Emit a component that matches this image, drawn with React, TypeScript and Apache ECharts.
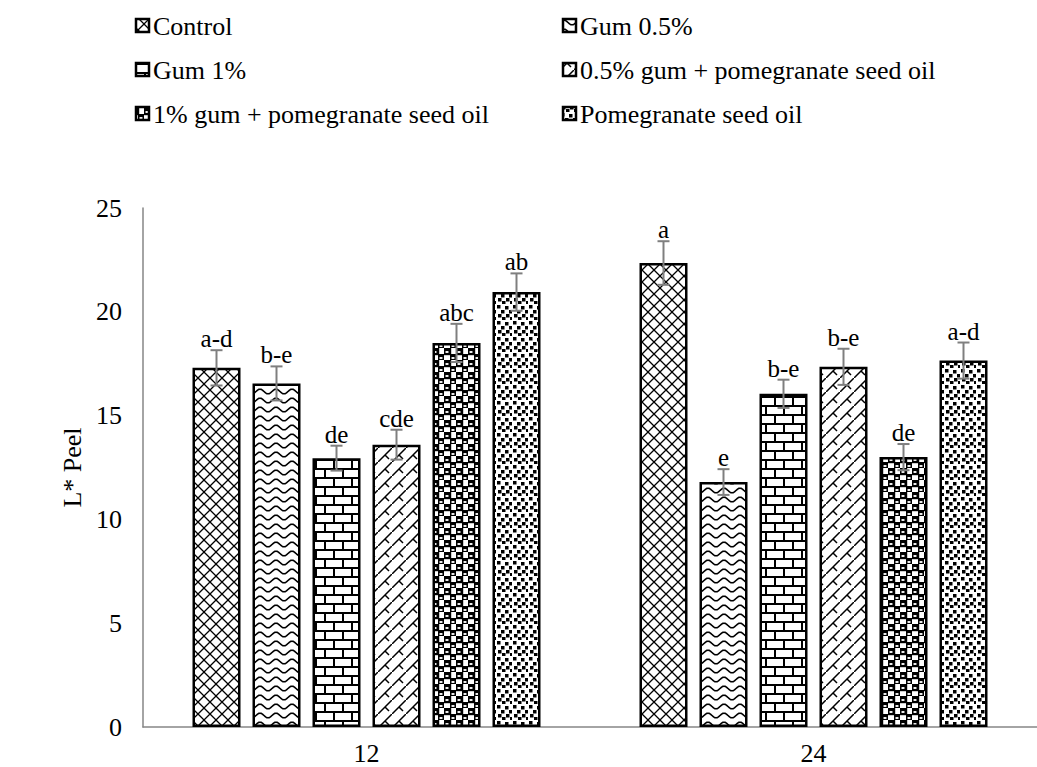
import React, { useEffect, useRef } from "react";
import * as echarts from "echarts";

const categories = ["12", "24"];
const seriesNames = [
  "Control",
  "Gum 0.5%",
  "Gum 1%",
  "0.5% gum + pomegranate seed oil",
  "1% gum + pomegranate seed oil",
  "Pomegranate seed oil",
];
const controlValues = [17.3, 22.35];
const gum05Values = [16.55, 11.8];
const gum1Values = [12.95, 16.05];
const gum05OilValues = [13.6, 17.35];
const gum1OilValues = [18.5, 13.0];
const oilValues = [20.95, 17.65];

const controlErr = [0.85, 1.05];
const gum05Err = [0.82, 0.62];
const gum1Err = [0.6, 0.68];
const gum05OilErr = [0.72, 0.87];
const gum1OilErr = [0.92, 0.63];
const oilErr = [0.9, 0.87];

const controlLetters = ["a-d", "a"];
const gum05Letters = ["b-e", "e"];
const gum1Letters = ["de", "b-e"];
const gum05OilLetters = ["cde", "b-e"];
const gum1OilLetters = ["abc", "de"];
const oilLetters = ["ab", "a-d"];

const yMin = 0;
const yMax = 25;
const yInterval = 5;

const FONT = "Liberation Serif, Times New Roman, serif";

type Tile = { url: string; w: number; h: number };

function makeTile(w: number, h: number, draw: (c: CanvasRenderingContext2D) => void): Tile {
  const cv = document.createElement("canvas");
  cv.width = w;
  cv.height = h;
  const c = cv.getContext("2d") as CanvasRenderingContext2D;
  c.fillStyle = "#fff";
  c.fillRect(0, 0, w, h);
  c.strokeStyle = "#000";
  c.fillStyle = "#000";
  draw(c);
  return { url: cv.toDataURL(), w, h };
}

function buildTiles(): Tile[] {
  const crossHatch = makeTile(12, 12, (c) => {
    c.lineWidth = 1.3;
    c.beginPath();
    c.moveTo(0, 0); c.lineTo(12, 12);
    c.moveTo(12, 0); c.lineTo(0, 12);
    c.stroke();
  });
  const waves = makeTile(16, 9, (c) => {
    c.lineWidth = 1.6;
    c.beginPath();
    for (let x = -1; x <= 17; x += 0.5) {
      const y = 4.5 - 2.3 * Math.sin((2 * Math.PI * x) / 16);
      if (x === -1) c.moveTo(x, y); else c.lineTo(x, y);
    }
    c.stroke();
  });
  const bricks = makeTile(18, 18, (c) => {
    c.fillRect(0, 0, 18, 2);
    c.fillRect(0, 9, 18, 2);
    c.fillRect(0, 0, 2, 9);
    c.fillRect(9, 9, 2, 9);
  });
  const diag = makeTile(14, 14, (c) => {
    c.lineWidth = 1.5;
    c.beginPath();
    c.moveTo(-1, 15); c.lineTo(15, -1);
    c.moveTo(7, 7); c.lineTo(11, 11);
    c.stroke();
  });
  const spheres = makeTile(12, 12, (c) => {
    c.fillStyle = "#000";
    c.fillRect(0, 0, 6.5, 6.5);
    c.fillRect(6, 6, 6.5, 6.5);
    c.fillRect(6, 0, 1.2, 12);
    c.fillRect(0, 6, 12, 1.2);
    c.fillStyle = "#fff";
    c.beginPath();
    c.ellipse(3, 4, 1.8, 0.9, 0, 0, Math.PI * 2);
    c.ellipse(9, 10, 1.8, 0.9, 0, 0, Math.PI * 2);
    c.fill();
  });
  const confetti = makeTile(16, 16, (c) => {
    const pts = [
      [1, 1], [9, 2], [5, 6], [13, 6], [2, 10], [10, 10], [6, 13], [14, 13],
    ];
    pts.forEach(([x, y]) => c.fillRect(x, y, 3.5, 3.5));
  });
  return [crossHatch, waves, bricks, diag, spheres, confetti];
}

export default function App() {
  const ref = useRef<HTMLDivElement>(null);
  useEffect(() => {
    if (!ref.current) return;
    const chart = echarts.init(ref.current, undefined, { renderer: "svg" });
    const tiles = buildTiles();
    const pattern = (t: Tile) => ({
      image: t.url,
      repeat: "repeat",
      imageWidth: t.w,
      imageHeight: t.h,
    });

    const values = [controlValues, gum05Values, gum1Values, gum05OilValues, gum1OilValues, oilValues];
    const errs = [controlErr, gum05Err, gum1Err, gum05OilErr, gum1OilErr, oilErr];
    const letters = [controlLetters, gum05Letters, gum1Letters, gum05OilLetters, gum1OilLetters, oilLetters];

    const barWidth = 48;
    const barGapPx = 12;
    const step = barWidth + barGapPx;

    const barSeries = values.map((vals, i) => ({
      type: "bar",
      name: seriesNames[i],
      data: vals,
      barWidth,
      barGap: "25%",
      itemStyle: {
        color: pattern(tiles[i]),
        borderColor: "#000",
        borderWidth: 2.5,
      },
      z: 2,
    }));

    const errSeries = values.map((vals, i) => ({
      type: "custom",
      name: seriesNames[i] + " err",
      data: vals.map((v, k) => [k, v, errs[i][k]]),
      z: 5,
      renderItem: (params: any, api: any) => {
        const cat = api.value(0);
        const v = api.value(1);
        const e = api.value(2);
        const p = api.coord([cat, v]);
        const hi = api.coord([cat, v + e]);
        const lo = api.coord([cat, v - e]);
        const x = p[0] + (i - 2.5) * step;
        const cap = 6;
        const stroke = { stroke: "#7f7f7f", lineWidth: 2 };
        return {
          type: "group",
          children: [
            { type: "line", shape: { x1: x, y1: hi[1], x2: x, y2: lo[1] }, style: stroke },
            { type: "line", shape: { x1: x - cap, y1: hi[1], x2: x + cap, y2: hi[1] }, style: stroke },
            { type: "line", shape: { x1: x - cap, y1: lo[1], x2: x + cap, y2: lo[1] }, style: stroke },
            {
              type: "text",
              x,
              y: hi[1] + 1,
              style: {
                text: letters[i][params.dataIndex],
                fill: "#000",
                fontFamily: FONT,
                fontSize: 25,
                align: "center",
                verticalAlign: "bottom",
              },
            },
          ],
        };
      },
    }));

    const legendGraphics: any[] = [];
    seriesNames.forEach((name, k) => {
      const col = k % 2;
      const row = Math.floor(k / 2);
      const x0 = col === 0 ? 136 : 563;
      const yc = 26 + row * 44;
      legendGraphics.push({
        type: "rect",
        shape: { x: x0, y: yc - 7, width: 13, height: 13 },
        style: { fill: pattern(tiles[k]), stroke: "#000", lineWidth: 2.5 },
      });
      legendGraphics.push({
        type: "text",
        x: x0 + 17,
        y: yc,
        style: {
          text: name,
          fill: "#000",
          fontFamily: FONT,
          fontSize: 26,
          verticalAlign: "middle",
        },
      });
    });

    chart.setOption({
      animation: false,
      backgroundColor: "#fff",
      textStyle: { fontFamily: FONT },
      grid: { left: 143, top: 208, width: 906, height: 519, containLabel: false },
      xAxis: {
        type: "category",
        data: categories,
        axisLine: { show: true, lineStyle: { color: "#868686", width: 1.5 } },
        axisTick: { show: false },
        axisLabel: { color: "#000", fontFamily: FONT, fontSize: 26, margin: 13 },
        splitLine: { show: false },
      },
      yAxis: {
        type: "value",
        min: yMin,
        max: yMax,
        interval: yInterval,
        name: "L* Peel",
        nameLocation: "middle",
        nameGap: 58,
        nameRotate: 90,
        nameTextStyle: { color: "#000", fontFamily: FONT, fontSize: 26 },
        axisLine: { show: true, lineStyle: { color: "#868686", width: 1.5 } },
        axisTick: { show: false },
        axisLabel: { color: "#000", fontFamily: FONT, fontSize: 26, margin: 21 },
        splitLine: { show: false },
      },
      graphic: legendGraphics,
      series: [...barSeries, ...errSeries],
    } as any);
    return () => chart.dispose();
  }, []);
  return (
    <div
      ref={ref}
      style={{ position: "fixed", left: 0, top: 0, width: 1037, height: 767 }}
    />
  );
}
